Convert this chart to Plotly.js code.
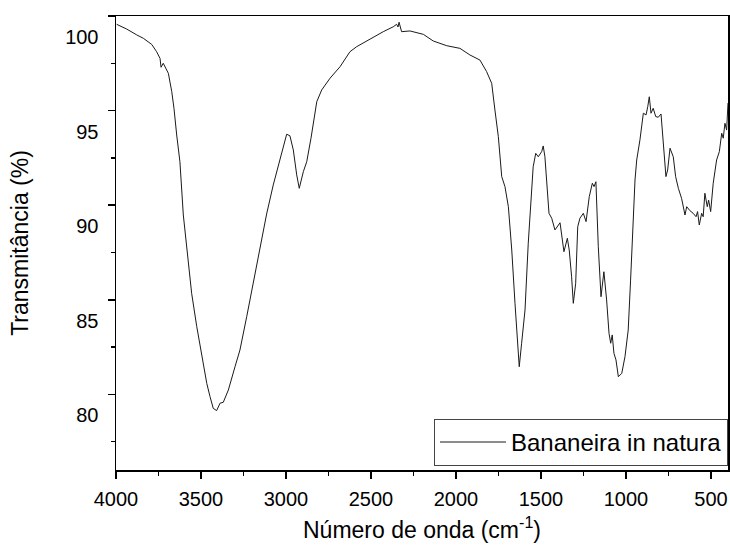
<!DOCTYPE html>
<html>
<head>
<meta charset="utf-8">
<script src="https://cdn.plot.ly/plotly-3.0.1.min.js"></script>
<style>html,body{margin:0;padding:0;background:#fff;}</style>
</head>
<body>
<div id="chart" style="width:730px;height:547px;"></div>
<script>
const seriesName = "Bananeira in natura";
const xTitle = "Número de onda (cm<sup>-1</sup>)";
const yTitle = "Transmitância (%)";

const wavenumber = [
3996,3937,3878,3839,3790,3761,3741,3735,3722,3692,3672,3659,3643,3624,3604,3584,3555,3525,3496,3466,
3447,3428,3408,3388,3369,3339,3300,3271,3231,3192,3153,3114,3075,3035,2996,2977,2957,2937,2922,2898,
2878,2853,2839,2819,2790,2741,2682,2624,2584,2506,2428,2369,2349,2341,2335,2320,2271,2192,2134,2055,
1977,1918,1859,1820,1790,1771,1751,1731,1712,1692,1672,1653,1640,1628,1614,1594,1575,1555,1546,1531,
1516,1496,1487,1477,1467,1453,1437,1418,1388,1378,1365,1345,1334,1320,1310,1296,1284,1271,1251,1235,
1216,1198,1188,1177,1163,1147,1130,1114,1100,1090,1081,1071,1059,1045,1025,1006,987,973,961,947,
937,918,898,882,872,863,853,840,825,810,794,781,765,755,741,722,708,692,673,653,
643,624,605,588,579,569,555,546,536,522,514,502,487,467,451,437,428,418,408,403,400
];
const transmittance = [
99.56,99.31,99.00,98.82,98.50,98.11,97.76,97.29,97.50,96.97,96.00,95.12,93.71,92.30,89.48,87.63,85.34,83.58,81.99,80.58,
79.88,79.26,79.14,79.53,79.58,80.23,81.46,82.34,84.11,85.87,87.63,89.53,91.07,92.48,93.75,93.67,92.92,91.60,90.89,91.77,
92.30,93.54,94.41,95.47,96.09,96.71,97.32,98.11,98.38,98.78,99.17,99.43,99.56,99.42,99.67,99.17,99.21,99.03,98.68,98.43,
98.29,97.94,97.67,97.06,96.44,95.03,93.62,91.51,90.98,89.92,87.63,84.81,83.05,81.46,82.70,84.46,87.99,90.80,92.03,92.74,
92.56,92.83,93.13,92.56,91.16,89.57,89.31,88.69,89.07,88.51,87.54,88.25,87.63,86.22,84.81,85.87,88.86,89.31,89.57,89.13,
90.45,91.16,90.98,91.24,87.81,85.16,86.48,84.99,83.23,82.70,83.14,82.17,81.82,80.93,81.11,81.99,83.40,86.04,88.69,91.33,
92.39,93.45,94.86,94.77,95.21,95.73,94.86,95.12,94.68,94.65,94.82,93.27,91.51,91.86,93.01,92.56,91.51,90.89,90.36,89.48,
89.92,89.71,89.57,89.39,89.66,88.95,89.57,89.39,90.63,89.92,90.27,89.66,91.16,92.39,92.83,93.80,93.54,94.33,93.97,94.87,95.40
];

const xTickVals = [4000,3500,3000,2500,2000,1500,1000,500];
const yTickVals = [80,85,90,95,100];

const FONT = 'Arial, Liberation Sans, sans-serif';

const trace = {
  x: wavenumber,
  y: transmittance,
  type: 'scatter',
  mode: 'lines',
  name: seriesName,
  line: {color: '#1a1a1a', width: 1}
};

const axisCommon = {
  showgrid: false,
  zeroline: false,
  showline: true,
  linecolor: '#000',
  linewidth: 1.5,
  mirror: true,
  ticks: 'outside',
  ticklen: 7,
  tickwidth: 1.5,
  tickcolor: '#000',
  tickfont: {family: FONT, size: 20, color: '#000'}
};

const layout = {
  width: 730,
  height: 547,
  margin: {l: 116, r: 2, t: 16, b: 77},
  paper_bgcolor: '#fff',
  plot_bgcolor: '#fff',
  font: {family: FONT, color: '#000'},
  showlegend: true,
  xaxis: Object.assign({}, axisCommon, {
    range: [4000, 400],
    autorange: false,
    tickmode: 'array',
    tickvals: xTickVals,
    ticktext: xTickVals.map(String),
    ticklabelstandoff: 3,
    minor: {dtick: 250, tick0: 0, ticks: 'outside', ticklen: 4, tickwidth: 1.5, tickcolor: '#000'},
    title: {text: xTitle, font: {family: FONT, size: 23, color: '#000'}, standoff: 13}
  }),
  yaxis: Object.assign({}, axisCommon, {
    range: [76, 100],
    autorange: false,
    tickmode: 'array',
    tickvals: yTickVals,
    ticktext: yTickVals.map(String),
    ticklabelshift: 21,
    ticklabelstandoff: 5,
    minor: {dtick: 2.5, tick0: 0, ticks: 'outside', ticklen: 4, tickwidth: 1.5, tickcolor: '#000'},
    title: {text: yTitle, font: {family: FONT, size: 23, color: '#000'}, standoff: 30}
  }),
  legend: {
    x: 1, xanchor: 'right',
    y: 0.009, yanchor: 'bottom',
    bgcolor: '#fff',
    bordercolor: '#444',
    borderwidth: 1,
    font: {family: FONT, size: 24, color: '#000'},
    itemwidth: 66
  }
};

Plotly.newPlot('chart', [trace], layout, {displayModeBar: false, staticPlot: true});
</script>
</body>
</html>
